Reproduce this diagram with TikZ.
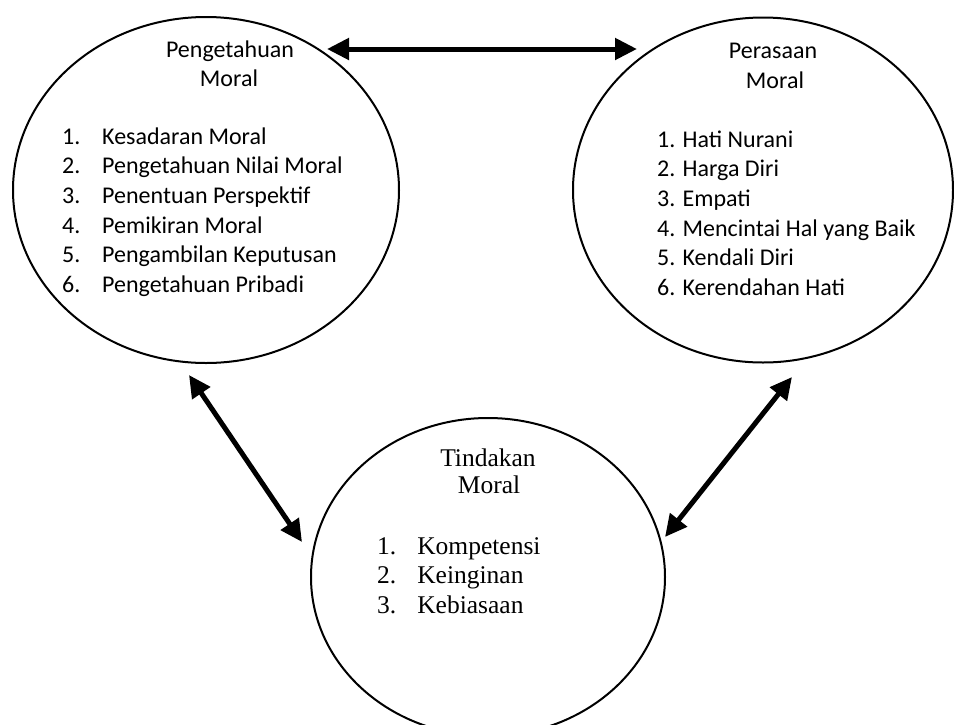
\documentclass[tikz,border=0pt]{standalone}
\usepackage{fontspec}
\setmainfont{Liberation Serif}
\newfontfamily\calfont{Carlito}
\usetikzlibrary{arrows.meta,shapes.geometric}
\tikzset{
  oval/.style={draw=black, line width=2pt, ellipse, inner sep=0pt},
  biarrow/.style={line width=5pt, {Triangle[length=22pt,width=21pt]}-{Triangle[length=22pt,width=21pt]}},
  caltext/.style={font=\calfont\fontsize{24}{29.7}\selectfont, inner sep=0pt},
  romtext/.style={font=\fontsize{25.5}{29.5}\selectfont, inner sep=0pt},
}
\begin{document}
\begin{tikzpicture}[x=1pt,y=-1pt]
\fill[white] (0,0) rectangle (954,724);
\useasboundingbox (0,0) rectangle (954,724);

% ellipses
\node[oval, minimum width=386pt, minimum height=346pt] (pm) at (206,190) {};
\node[oval, minimum width=380pt, minimum height=345pt] (fm) at (763,190) {};
\node[oval, minimum width=354pt, minimum height=318pt] (tm) at (488,577) {};

% left ellipse text
\node[caltext, anchor=base] (pmt1) at (230,57) {Pengetahuan};
\node[caltext, anchor=base] (pmt2) at (229,86) {Moral};
\node[caltext, anchor=base west] (pml) at (62,144) {%
\begin{tabular}[t]{@{}l@{\hspace{21.8pt}}l@{}}
1. & Kesadaran Moral\\
2. & Pengetahuan Nilai Moral\\
3. & Penentuan Perspektif\\
4. & Pemikiran Moral\\
5. & Pengambilan Keputusan\\
6. & Pengetahuan Pribadi
\end{tabular}};

% right ellipse text
\node[caltext, anchor=base] (fmt1) at (773,58) {Perasaan};
\node[caltext, anchor=base] (fmt2) at (775,88) {Moral};
\node[caltext, anchor=base west] (fml) at (657,147) {%
\begin{tabular}[t]{@{}l@{}}
1. Hati Nurani\\
2. Harga Diri\\
3. Empati\\
4. Mencintai Hal yang Baik\\
5. Kendali Diri\\
6. Kerendahan Hati
\end{tabular}};

% bottom circle text
\node[romtext, anchor=base] (tmt1) at (488,466) {Tindakan};
\node[romtext, anchor=base] (tmt2) at (489,493) {Moral};
\node[romtext, anchor=base west] (tml) at (377,554) {%
\begin{tabular}[t]{@{}l@{\hspace{21pt}}l@{}}
1. & Kompetensi\\
2. & Keinginan\\
3. & Kebiasaan
\end{tabular}};

% arrow ends
\coordinate (a1) at (327,49);
\coordinate (a2) at (637,49);
\coordinate (b1) at (189,375);
\coordinate (b2) at (302,542);
\coordinate (c1) at (792,377);
\coordinate (c2) at (665,537);

\draw[biarrow] (a1) -- (a2);
\draw[biarrow] (b1) -- (b2);
\draw[biarrow] (c1) -- (c2);
\end{tikzpicture}
\end{document}
